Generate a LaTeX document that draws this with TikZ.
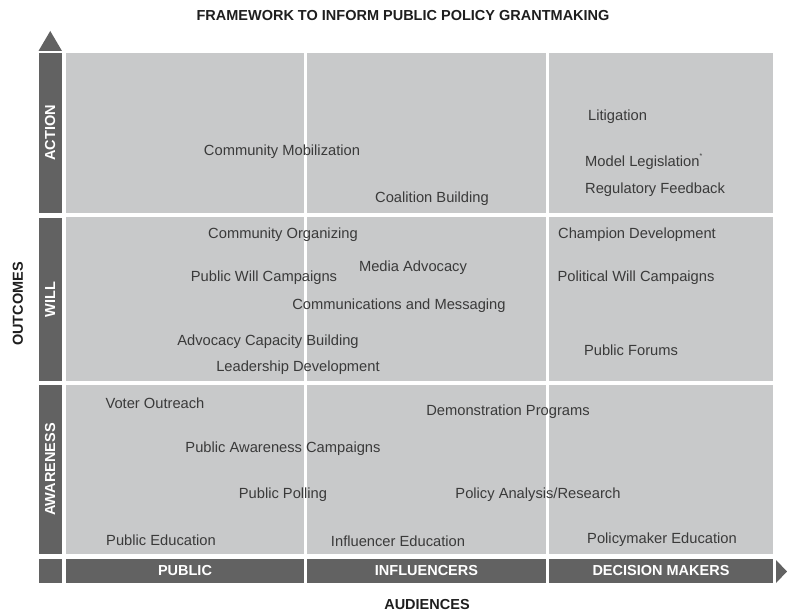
\documentclass[tikz,border=0pt]{standalone}
\usepackage{fontspec}
\setmainfont{Liberation Sans}
\usepackage{tikz}
\definecolor{bargray}{RGB}{98, 98, 98}
\definecolor{cellgray}{RGB}{200, 201, 202}
\definecolor{itemtext}{RGB}{58, 58, 58}
\definecolor{headtext}{RGB}{30, 30, 30}

\begin{document}
\begin{tikzpicture}[x=1pt, y=-1pt,
  cell/.style={fill=cellgray},
  bar/.style={fill=bargray, text=white, inner sep=0pt, font=\bfseries\fontsize{14.5}{16}\selectfont},
  item/.style={text=itemtext, inner sep=0pt, font=\fontsize{14.7}{16}\selectfont},
  axislabel/.style={text=headtext, inner sep=0pt, font=\bfseries\fontsize{14.5}{16}\selectfont}]
\useasboundingbox (0,0) rectangle (787,615);
\node[axislabel] (title) at (403,16) {FRAMEWORK TO INFORM PUBLIC POLICY GRANTMAKING};
\node[axislabel, rotate=90] (outcomes) at (18,304) {OUTCOMES};
\node[axislabel] (audiences) at (427,605) {AUDIENCES};
\fill[bargray] (38.5,51) -- (62,51) -- (50.25,31) -- cycle;
\fill[bargray] (776,560) -- (776,583) -- (787,571.5) -- cycle;
\fill[cell] (66,53) rectangle (304,213);
\fill[cell] (307,53) rectangle (546,213);
\fill[cell] (549,53) rectangle (773,213);
\fill[cell] (66,217) rectangle (304,381);
\fill[cell] (307,217) rectangle (546,381);
\fill[cell] (549,217) rectangle (773,381);
\fill[cell] (66,385) rectangle (304,554);
\fill[cell] (307,385) rectangle (546,554);
\fill[cell] (549,385) rectangle (773,554);
\node[bar, rotate=90, minimum width=160, minimum height=23.5] (action) at (50.25,133) {ACTION};
\node[bar, rotate=90, minimum width=163, minimum height=23.5] (will) at (50.25,299.5) {WILL};
\node[bar, rotate=90, minimum width=169, minimum height=23.5] (awareness) at (50.25,469.5) {AWARENESS};
\node[bar, minimum width=23.5, minimum height=24] (corner) at (50.25,571) {};
\node[bar, minimum width=238, minimum height=24] (public) at (185,571) {PUBLIC};
\node[bar, minimum width=239, minimum height=24] (influencers) at (426.5,571) {INFLUENCERS};
\node[bar, minimum width=224, minimum height=24] (decision) at (661,571) {DECISION MAKERS};
\node[item] (mobilization) at (282,152) {Community Mobilization};
\node[item] (coalition) at (432,199) {Coalition Building};
\node[item, anchor=west] (litigation) at (588,117) {Litigation};
\node[item, anchor=west] (legislation) at (585,162) {Model Legislation\raisebox{0.55em}{\scriptsize*}};
\node[item, anchor=west] (regulatory) at (585,190) {Regulatory Feedback};
\node[item] (organizing) at (283,235) {Community Organizing};
\node[item] (champion) at (637,235) {Champion Development};
\node[item] (media) at (413,268) {Media Advocacy};
\node[item] (publicwill) at (264,278) {Public Will Campaigns};
\node[item] (politicalwill) at (636,278) {Political Will Campaigns};
\node[item] (messaging) at (399,306) {Communications and Messaging};
\node[item] (capacity) at (268,342) {Advocacy Capacity Building};
\node[item] (forums) at (631,350) {Public Forums};
\node[item] (leadership) at (298,368) {Leadership Development};
\node[item] (voter) at (155,403) {Voter Outreach};
\node[item] (demonstration) at (508,412) {Demonstration Programs};
\node[item] (awarenesscamp) at (283,449) {Public Awareness Campaigns};
\node[item] (polling) at (283,495) {Public Polling};
\node[item] (policyresearch) at (538,495) {Policy Analysis/Research};
\node[item] (pubeducation) at (161,540) {Public Education};
\node[item] (infeducation) at (398,541) {Influencer Education};
\node[item] (poleducation) at (662,540) {Policymaker Education};
\end{tikzpicture}
\end{document}
